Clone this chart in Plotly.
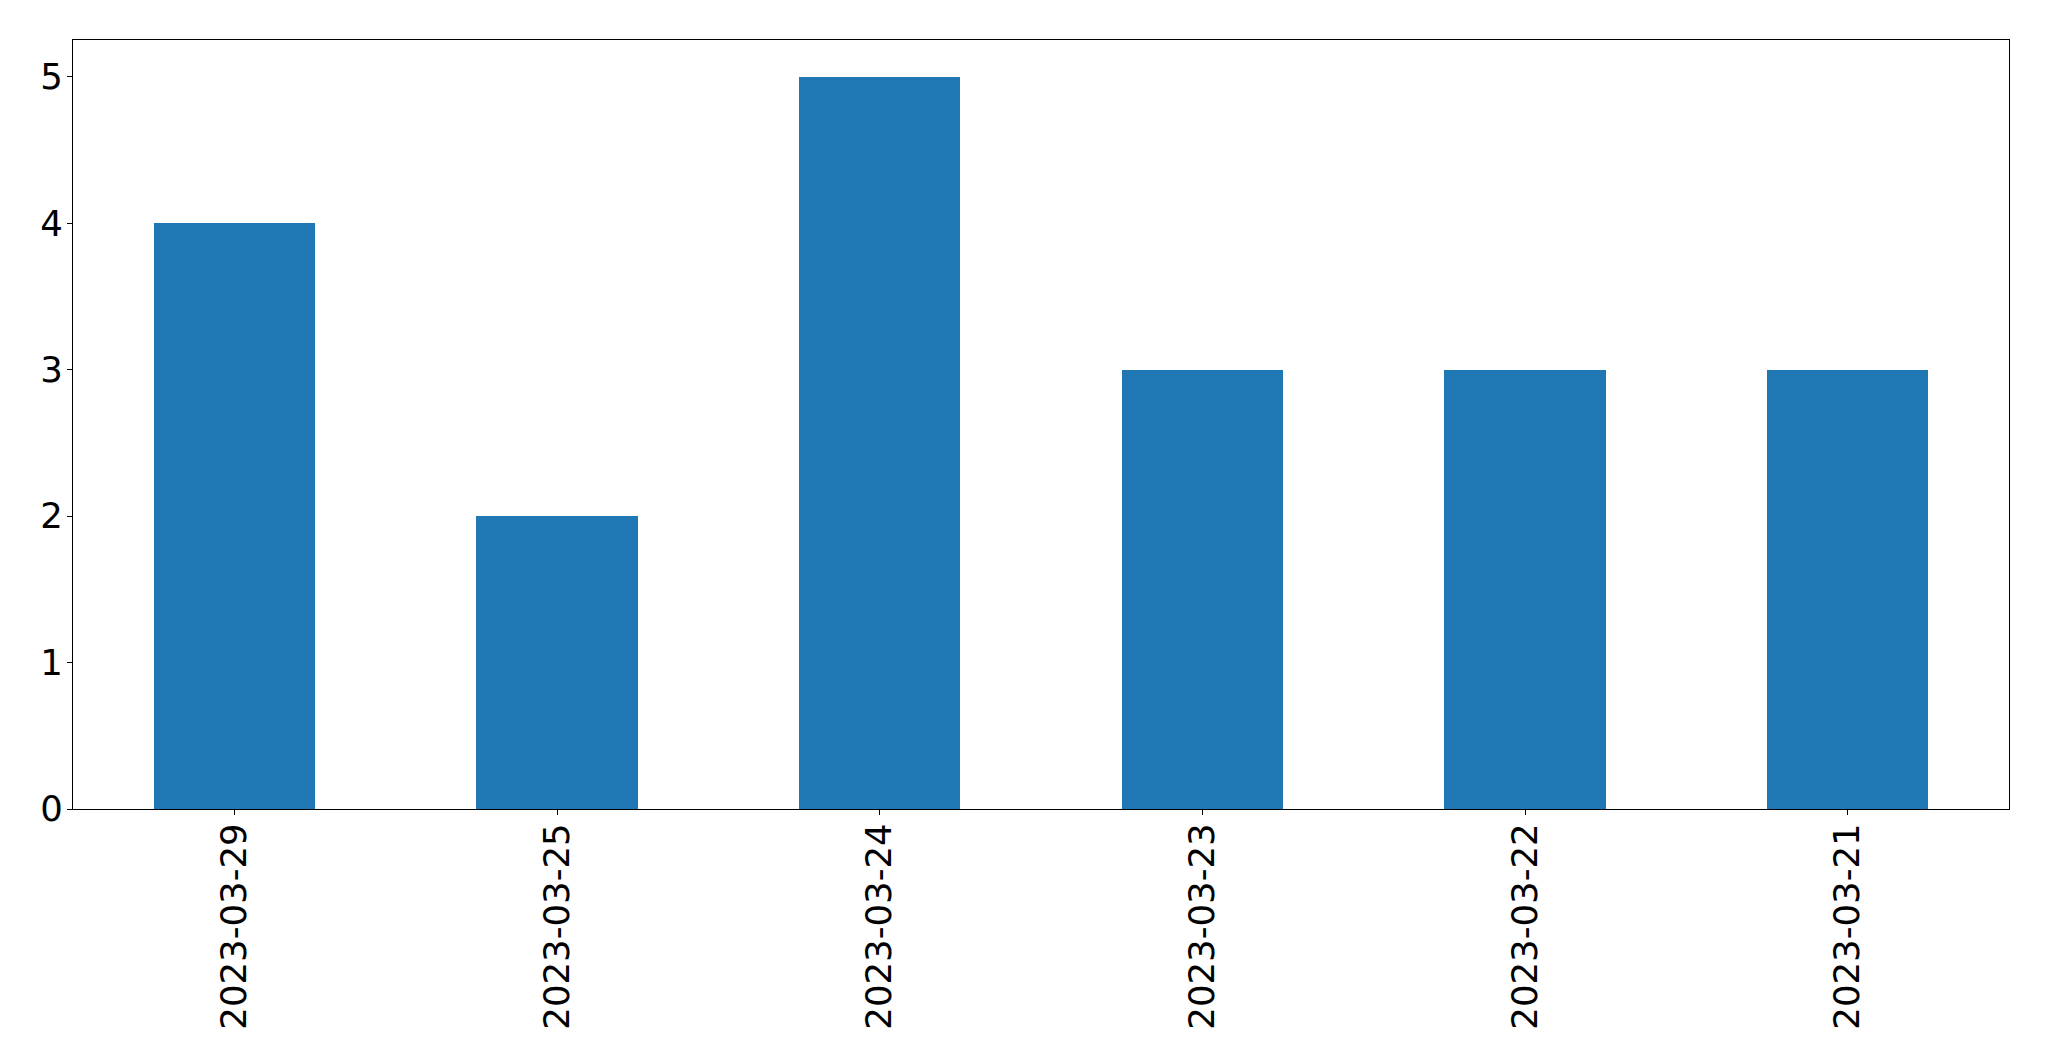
import plotly.graph_objects as go

categories = ["2023-03-29", "2023-03-25", "2023-03-24", "2023-03-23", "2023-03-22", "2023-03-21"]
counts = [4, 2, 5, 3, 3, 3]
y_ticks = [0, 1, 2, 3, 4, 5]

# page has 8px body margin; keep figure inside the viewport
OFF = 8
W, H = 2049 - 2 * OFF, 1061 - 2 * OFF
L, R, T, B = 72.5, 2009, 39.5, 809.5  # target plot area in page pixels

fig = go.Figure()
fig.add_trace(go.Bar(
    x=list(range(len(categories))),
    y=counts,
    width=0.5,
    marker=dict(color="#1f77b4", line=dict(width=0)),
))

axis_common = dict(
    showline=True, linecolor="black", linewidth=1.3, mirror=True,
    ticks="outside", ticklen=5, tickwidth=1.3, tickcolor="black",
    showgrid=False, zeroline=False, automargin=False,
    tickfont=dict(family="DejaVu Sans", size=35.5, color="black"),
)

fig.update_layout(
    width=W, height=H,
    margin=dict(l=L - OFF, r=W + OFF - R, t=T - OFF, b=H + OFF - B, pad=0),
    paper_bgcolor="white", plot_bgcolor="white",
    showlegend=False,
    bargap=0,
    xaxis=dict(
        range=[-0.5, len(categories) - 0.5],
        tickmode="array", tickvals=list(range(len(categories))), ticktext=categories,
        tickangle=-90, ticklabelstandoff=-6,
        **axis_common,
    ),
    yaxis=dict(
        range=[0, 5.25],
        tickmode="array", tickvals=y_ticks, ticktext=[str(v) for v in y_ticks],
        ticklabelstandoff=-3,
        **axis_common,
    ),
)

fig.write_html("out.html")
